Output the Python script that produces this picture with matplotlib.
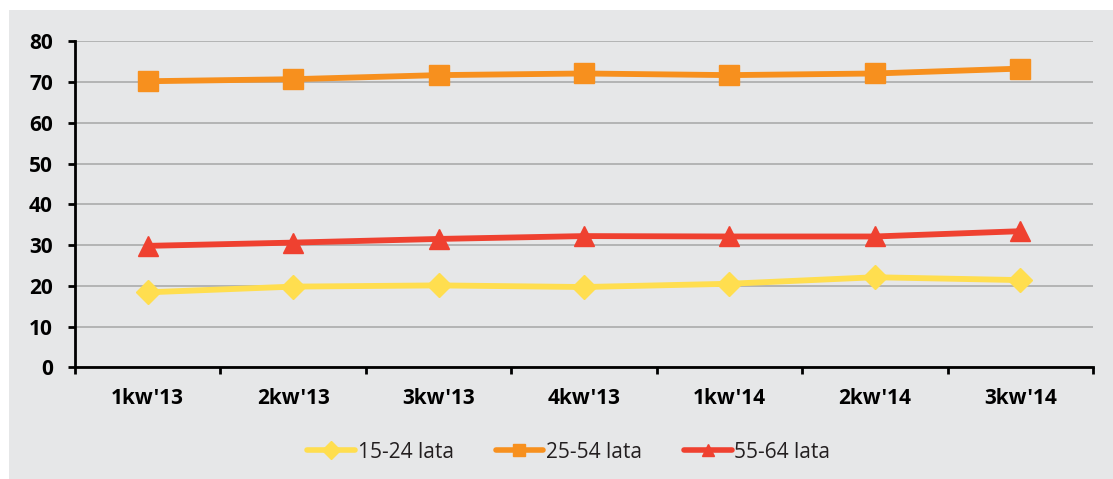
import matplotlib
matplotlib.use("Agg")
import matplotlib.pyplot as plt
from matplotlib.patches import Rectangle
from matplotlib.lines import Line2D

categories = ["1kw'13", "2kw'13", "3kw'13", "4kw'13", "1kw'14", "2kw'14", "3kw'14"]
s15_24 = [18.4, 19.8, 20.1, 19.7, 20.5, 22.1, 21.4]
s25_54 = [70.2, 70.7, 71.7, 72.1, 71.7, 72.1, 73.3]
s55_64 = [29.8, 30.6, 31.5, 32.2, 32.1, 32.1, 33.4]
labels = ["15-24 lata", "25-54 lata", "55-64 lata"]
colors = ["#FFDE4F", "#F7901E", "#EF4130"]
markers = ["D", "s", "^"]
yticks = [0, 10, 20, 30, 40, 50, 60, 70, 80]

plt.rcParams['font.family'] = ['Open Sans', 'DejaVu Sans']

W, H = 1113, 479
fig = plt.figure(figsize=(W/100, H/100), dpi=100)
fig.patch.set_facecolor("white")
fig.patches.append(Rectangle((9/W, 0), 1 - 9/W, 1 - 10/H, transform=fig.transFigure,
                             facecolor="#E6E7E8", edgecolor="none", zorder=-10))

ax = fig.add_axes([75/W, 1 - 367.3/H, (1093-75)/W, (367.3-41.3)/H])
ax.set_facecolor("none")

x = list(range(len(categories)))
series = [s15_24, s25_54, s55_64]
msizes = [12, 14, 14]
for vals, lab, c, m, ms in zip(series, labels, colors, markers, msizes):
    ax.plot(x, vals, color=c, lw=4.2, marker=m, markersize=ms, label=lab,
            solid_capstyle="round", zorder=3)

ax.set_xlim(-0.5, len(categories) - 0.5)
ax.set_ylim(0, 80)
ax.set_yticks(yticks)
ax.set_xticks([i - 0.5 for i in range(len(categories) + 1)], minor=False)
ax.set_xticklabels([])
ax.set_xticks(x, minor=True)
ax.set_xticklabels(categories, minor=True)
ax.tick_params(axis='x', which='major', length=5, width=2, direction='out', color='black')
ax.tick_params(axis='x', which='minor', length=0, pad=15, labelsize=15)
ax.tick_params(axis='y', length=5, width=2, direction='out', labelsize=15, pad=11)
for lbl in ax.get_xticklabels(minor=True) + ax.get_yticklabels():
    lbl.set_fontweight('bold')
    lbl.set_color('black')

ax.yaxis.grid(True, color="#ABABAB", lw=1.2)
ax.set_axisbelow(True)
for s in ["top", "right"]:
    ax.spines[s].set_visible(False)
for s in ["left", "bottom"]:
    ax.spines[s].set_linewidth(2)
    ax.spines[s].set_color("black")
    ax.spines[s].set_zorder(4)

handles = [Line2D([0], [0], color=c, lw=4, marker=m, markersize=9, solid_capstyle="round")
           for c, m in zip(colors, markers)]
leg = fig.legend(handles, labels, loc="center", bbox_to_anchor=(0.511, 1 - 452/H), ncol=3,
                 frameon=False, fontsize=15, handlelength=2.3, handletextpad=0.12,
                 columnspacing=2.0)
for t in leg.get_texts():
    t.set_color("#231F20")

fig.savefig("out.png", dpi=100)
